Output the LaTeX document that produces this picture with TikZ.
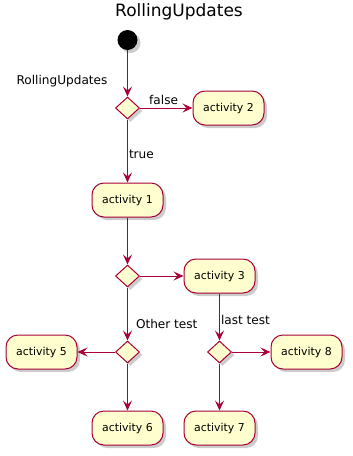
\documentclass[tikz,border=0pt]{standalone}
\usepackage{fontspec}
\setmainfont{DejaVu Sans}
\usepackage{tikz}
\usetikzlibrary{shapes.geometric, arrows.meta, positioning, shadows}
\usepackage{xcolor}
\definecolor{umlred}{HTML}{A80036}
\definecolor{umlfill}{HTML}{FEFECE}
\tikzstyle{umlshadow} = [drop shadow={shadow xshift=3pt, shadow yshift=-3pt, fill=black!40, opacity=0.5}]
\tikzstyle{activity} = [rectangle, rounded corners=12pt, minimum width=71pt, minimum height=34pt, text centered, draw=umlred, line width=1pt, fill=umlfill, umlshadow, font=\fontsize{10.9}{13}\selectfont]
\tikzstyle{branch} = [diamond, minimum width=24pt, minimum height=22pt, inner sep=0pt, draw=umlred, line width=1pt, fill=umlfill, umlshadow]
\tikzstyle{startnode} = [circle, minimum size=20pt, inner sep=0pt, fill=black, umlshadow]
\tikzstyle{guard} = [font=\fontsize{12.1}{14}\selectfont, inner sep=1pt]
\tikzstyle{flow} = [draw=umlred, line width=1pt, -{Stealth[length=10pt, width=9pt, inset=4pt]}]

\begin{document}
\begin{tikzpicture}[x=1pt, y=-1pt, node distance=76pt]
\useasboundingbox (0,0) rectangle (353,456);

% Title
\node (title) at (179,12) {\fontsize{17}{20}\selectfont RollingUpdates};

% Main column
\node (start) [startnode] at (127.5,40) {};
\node (d1) [branch, below of=start, yshift=8pt] {};
\node (cond) [guard] at (62,81) {RollingUpdates};
\node (act2) [activity, right of=d1, xshift=25pt] {activity 2};
\node (act1) [activity, below of=d1, yshift=-16pt] {activity 1};
\node (d2) [branch, below of=act1] {};
\node (act3) [activity, right of=d2, xshift=16pt] {activity 3};

% Other test
\node (d3) [branch, below of=d2] {};
\node (act5) [activity, left of=d3, xshift=-10pt] {activity 5};
\node (act6) [activity, below of=d3] {activity 6};

% last test
\node (d4) [branch, below of=act3] {};
\node (act8) [activity, right of=d4, xshift=11pt] {activity 8};
\node (act7) [activity, below of=d4] {activity 7};

% Arrows
\draw [flow] (start) -- (d1);
\draw [flow] (d1) -- node[guard, above=2pt, pos=0.45] {false} (act2);
\draw [flow] (d1) -- node[guard, anchor=west, pos=0.56] {true} (act1);
\draw [flow] (act1) -- (d2);
\draw [flow] (d2) -- (act3);
\draw [flow] (d2) -- node[guard, right=7pt, pos=0.68] {Other test} (d3);
\draw [flow] (act3) -- node[guard, anchor=west, pos=0.56] {last test} (d4);
\draw [flow] (d3) -- (act5);
\draw [flow] (d3) -- (act6);
\draw [flow] (d4) -- (act8);
\draw [flow] (d4) -- (act7);

\end{tikzpicture}
\end{document}
